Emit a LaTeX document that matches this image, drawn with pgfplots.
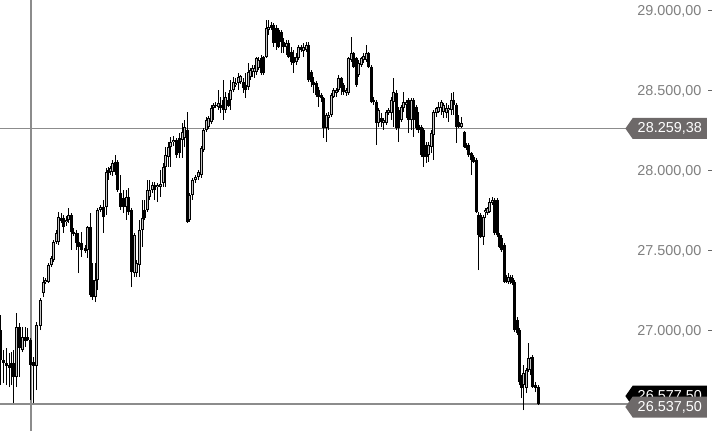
\documentclass[border=0pt]{standalone}
\usepackage{pgfplots}
\pgfplotsset{compat=1.18}
\usepackage{pgfplotstable}
\usepackage{fontspec}
\setmainfont{Liberation Sans}
\usetikzlibrary{shapes.symbols}
\definecolor{cross}{HTML}{8C8C8C}
\definecolor{tag}{HTML}{6D6969}
\definecolor{ticktext}{HTML}{7F7F7F}

% x = bar position, o h l c = open high low close
\pgfplotstableread{
x o h l c
0 27000 27093.75 26656.25 26812.5
3 26812.5 26875 26668.75 26793.75
6 26793.75 26887.5 26656.25 26775
9 26781.25 26856.25 26643.75 26762.5
11 26793.75 26862.5 26656.25 26768.75
13.5 26793.75 26875 26543.75 26706.25
16.5 26706.25 27106.25 26643.75 27018.75
19.5 27018.75 27043.75 26706.25 26887.5
22 26875 27018.75 26862.5 26956.25
25 26956.25 27018.75 26893.75 26931.25
27.5 26956.25 27012.5 26931.25 26937.5
30 26937.5 26950 26562.5 26781.25
33 26800 26831.25 26543.75 26775
36.5 26775 27050 26625 27031.25
40.5 27025 27200 27000 27187.5
43 27231.25 27331.25 27206.25 27300
45.5 27300 27325 27287.5 27312.5
48 27300 27418.75 27293.75 27406.25
51 27406.25 27462.5 27393.75 27450
53.5 27437.5 27562.5 27425 27550
56 27550 27625 27537.5 27606.25
58.5 27550 27737.5 27531.25 27706.25
61 27700 27731.25 27668.75 27681.25
63.5 27700 27718.75 27606.25 27643.75
66 27675 27712.5 27650 27687.5
68.5 27687.5 27762.5 27668.75 27718.75
71 27718.75 27731.25 27500 27612.5
73.5 27612.5 27637.5 27587.5 27600
76 27606.25 27625 27500 27543.75
78.5 27550 27606.25 27356.25 27518.75
81.5 27543.75 27612.5 27456.25 27500
85 27512.5 27531.25 27481.25 27493.75
87.5 27500 27650 27450 27643.75
90 27643.75 27731.25 27206.25 27218.75
92.5 27312.5 27418.75 27187.5 27206.25
95 27206.25 27418.75 27175 27312.5
97.5 27312.5 27762.5 27250 27750
100 27750 27781.25 27737.5 27768.75
103 27768.75 27812.5 27606.25 27706.25
106 27768.75 28012.5 27718.75 27987.5
108 28000 28018.75 27937.5 27981.25
110 27987.5 28025 27968.75 28012.5
112.5 27987.5 28062.5 27962.5 28043.75
115 28050 28093.75 27968.75 27987.5
117.5 28050 28062.5 27862.5 27875
120.5 27856.25 27968.75 27750 27768.75
123 27825 27875 27731.25 27768.75
126 27768.75 27875 27687.5 27831.25
128.5 27831.25 27887.5 27718.75 27737.5
131.5 27750 27762.5 27268.75 27362.5
134 27356.25 27606.25 27331.25 27593.75
136.5 27356.25 27437.5 27331.25 27418.75
139 27406.25 27687.5 27331.25 27625
142 27625 27812.5 27518.75 27700
144.5 27750 27812.5 27687.5 27700
147 27750 27937.5 27737.5 27875
149.5 27831.25 27937.5 27812.5 27875
152 27875 27925 27856.25 27906.25
154.5 27906.25 27925 27812.5 27875
157 27893.75 27918.75 27800 27906.25
160 27893.75 28000 27831.25 27912.5
163 27918.75 28043.75 27893.75 28018.75
165.5 28018.75 28143.75 27893.75 28093.75
168 28081.25 28175 28018.75 28143.75
170.5 28143.75 28206.25 28018.75 28175
173 28175 28212.5 28150 28187.5
176 28187.5 28200 28075 28093.75
179 28200 28231.25 28075 28106.25
182 28187.5 28293.75 28075 28237.5
184.5 28200 28312.5 28143.75 28268.75
187 28250 28362.5 27668.75 27675
189.5 27687.5 27856.25 27675 27843.75
192.5 27843.75 27950 27812.5 27937.5
195.5 27937.5 27968.75 27918.75 27956.25
198.5 27956.25 28000 27937.5 27987.5
201 27968.75 28150 27950 28137.5
203.5 28125 28262.5 28112.5 28250
206 28250 28331.25 28237.5 28312.5
208.5 28268.75 28337.5 28256.25 28325
211 28300 28406.25 28287.5 28387.5
213 28387.5 28418.75 28312.5 28406.25
215.5 28406.25 28425 28387.5 28400
218 28393.75 28500 28375 28418.75
220.5 28406.25 28456.25 28356.25 28387.5
223 28437.5 28562.5 28312.5 28375
225.5 28375 28487.5 28356.25 28456.25
228 28437.5 28481.25 28393.75 28400
230.5 28437.5 28562.5 28375 28500
233 28500 28581.25 28487.5 28550
235.5 28531.25 28575 28518.75 28543.75
238 28543.75 28606.25 28500 28581.25
240.5 28550 28593.75 28537.5 28587.5
243 28550 28575 28481.25 28512.5
245.5 28531.25 28606.25 28450 28500
248 28518.75 28668.75 28500 28612.5
250 28581.25 28637.5 28562.5 28625
252 28612.5 28656.25 28581.25 28637.5
254 28612.5 28656.25 28575 28637.5
256.5 28612.5 28706.25 28593.75 28700
258.5 28637.5 28706.25 28625 28687.5
261 28700 28718.75 28593.75 28606.25
263.5 28706.25 28712.5 28593.75 28606.25
266 28706.25 28937.5 28700 28887.5
268.5 28875 28937.5 28843.75 28893.75
271 28906.25 28925 28875 28887.5
273.5 28906.25 28918.75 28768.75 28793.75
276 28887.5 28906.25 28750 28793.75
278.5 28875 28887.5 28762.5 28768.75
281 28862.5 28875 28731.25 28800
283.5 28800 28825 28731.25 28768.75
286 28768.75 28812.5 28718.75 28793.75
288.5 28793.75 28812.5 28700 28706.25
291 28737.5 28768.75 28656.25 28675
293.5 28706.25 28750 28606.25 28668.75
296 28675 28731.25 28656.25 28706.25
298.5 28700 28781.25 28687.5 28768.75
301 28768.75 28781.25 28737.5 28750
303.5 28743.75 28793.75 28706.25 28768.75
306 28750 28800 28737.5 28781.25
308.5 28781.25 28800 28550 28562.5
311 28612.5 28625 28518.75 28550
313.5 28550 28581.25 28481.25 28531.25
316 28543.75 28556.25 28456.25 28468.75
318.5 28500 28518.75 28393.75 28456.25
321 28468.75 28481.25 28425 28450
323.5 28450 28456.25 28200 28262.5
326 28262.5 28356.25 28175 28343.75
328.5 28325 28362.5 28250 28343.75
331 28343.75 28481.25 28331.25 28468.75
333.5 28456.25 28512.5 28450 28500
336 28481.25 28512.5 28456.25 28500
338.5 28500 28593.75 28487.5 28575
341 28575 28581.25 28468.75 28512.5
343.5 28531.25 28543.75 28468.75 28487.5
346 28481.25 28512.5 28462.5 28500
348.5 28481.25 28706.25 28468.75 28700
351 28687.5 28831.25 28675 28731.25
353.5 28731.25 28737.5 28637.5 28643.75
356 28700 28706.25 28518.75 28531.25
358.5 28593.75 28687.5 28581.25 28668.75
361 28656.25 28706.25 28643.75 28700
363.5 28687.5 28731.25 28668.75 28712.5
366 28687.5 28781.25 28675 28731.25
368.5 28731.25 28737.5 28637.5 28643.75
371 28643.75 28656.25 28418.75 28425
373.5 28437.5 28456.25 28406.25 28425
376 28425 28437.5 28156.25 28293.75
378.5 28293.75 28387.5 28268.75 28375
381 28325 28356.25 28268.75 28300
383.5 28293.75 28325 28250 28312.5
386 28293.75 28375 28281.25 28362.5
388.5 28356.25 28387.5 28343.75 28375
391 28356.25 28456.25 28312.5 28437.5
393.5 28425 28575 28268.75 28487.5
396 28481.25 28500 28250 28262.5
398.5 28375 28393.75 28175 28262.5
401 28312.5 28406.25 28300 28393.75
403.5 28387.5 28487.5 28362.5 28425
406 28406.25 28437.5 28325 28425
408.5 28437.5 28450 28231.25 28312.5
411 28312.5 28450 28250 28437.5
413.5 28437.5 28450 28206.25 28312.5
416 28393.75 28406.25 28250 28262.5
418.5 28281.25 28362.5 28231.25 28250
421 28268.75 28281.25 28081.25 28093.75
423.5 28250 28262.5 28018.75 28081.25
426 28156.25 28175 28043.75 28081.25
428.5 28093.75 28175 28050 28156.25
431 28143.75 28250 28106.25 28231.25
433.5 28218.75 28375 28062.5 28362.5
436 28356.25 28393.75 28331.25 28387.5
438.5 28362.5 28425 28356.25 28393.75
441 28387.5 28437.5 28343.75 28425
443.5 28362.5 28418.75 28325 28406.25
446 28356.25 28418.75 28325 28387.5
448.5 28375 28406.25 28300 28387.5
451 28375 28481.25 28343.75 28437.5
453.5 28437.5 28487.5 28343.75 28406.25
456 28406.25 28418.75 28168.75 28268.75
458.5 28300 28343.75 28262.5 28268.75
461 28268.75 28331.25 28262.5 28293.75
464 28237.5 28243.75 28137.5 28143.75
466 28156.25 28168.75 28125 28137.5
468.5 28156.25 28168.75 28081.25 28093.75
471 28106.25 28112.5 27968.75 28062.5
473.5 28081.25 28093.75 28043.75 28050
476 28062.5 28075 27731.25 27737.5
478 27718.75 27737.5 27375 27593.75
480.5 27718.75 27731.25 27575 27581.25
483 27581.25 27718.75 27531.25 27706.25
485 27737.5 27762.5 27700 27750
487 27731.25 27768.75 27718.75 27762.5
489.5 27737.5 27825 27731.25 27800
492 27793.75 27831.25 27781.25 27812.5
494.5 27812.5 27825 27593.75 27606.25
497 27812.5 27825 27581.25 27593.75
499.5 27593.75 27606.25 27512.5 27518.75
501.5 27575 27593.75 27487.5 27500
504 27531.25 27543.75 27293.75 27300
506 27325 27343.75 27293.75 27300
508 27300 27356.25 27287.5 27331.25
510.5 27331.25 27343.75 27287.5 27300
512.5 27325 27343.75 27281.25 27293.75
514.5 27300 27312.5 26987.5 27000
517 27062.5 27081.25 26968.75 26981.25
519 27000 27012.5 26656.25 26675
521.5 26700 26718.75 26575 26637.5
523.5 26656.25 26781.25 26500 26731.25
526 26637.5 26762.5 26606.25 26750
528 26750 26918.75 26737.5 26825
530.5 26750 26831.25 26718.75 26825
532.5 26831.25 26843.75 26637.5 26643.75
535 26656.25 26675 26612.5 26637.5
538 26643.75 26656.25 26531.25 26537.5
}\candles

\begin{document}
\begin{tikzpicture}
\begin{axis}[
    width=712pt, height=431pt, scale only axis,
    xmin=0, xmax=712, ymin=26368.75, ymax=29062.5,
    axis x line=none, axis y line*=right,
    y axis line style={draw=black!70, line width=0.8pt},
    ytick={27000,27500,28000,28500,29000},
    scaled y ticks=false,
    tick align=inside, major tick length=4pt,
    ytick style={draw=black!60, line width=0.8pt},
    yticklabel style={anchor=east, xshift=-7pt, yshift=-1.5pt, text=ticktext,
        font=\fontsize{14.4}{17}\selectfont},
    /pgf/number format/.cd, fixed, fixed zerofill, precision=2,
        use comma, 1000 sep={.}, assume math mode=true,
]
% crosshair and price lines
\addplot[cross, line width=1.2pt] coordinates {(31,26368.75) (31,29062.5)};
\addplot[cross, line width=1.2pt] coordinates {(0,28259.38) (630,28259.38)};
\addplot[cross, line width=1.2pt] coordinates {(0,26537.5) (630,26537.5)};

% wicks
\addplot[black, line width=1pt, quiver={u=0, v=\thisrow{h}-\thisrow{l}}]
    table[x=x, y=l] {\candles};
% bodies
\addplot[black, line width=3pt, quiver={u=0, v=\thisrow{c}-\thisrow{o}}]
    table[x=x, y=o] {\candles};
% hollow inside of the up candles
\addplot[white!55!gray, line width=1pt, quiver={u=0, v=\thisrow{c}-\thisrow{o}-10},
    x filter/.expression={(\thisrow{c}-\thisrow{o}>12) ? x : nan}]
    table[x=x, y expr=\thisrow{o}+5] {\candles};

\node[signal, signal to=west, signal pointer angle=110, fill=black, text=white,
    font=\fontsize{14.4}{17}\selectfont, inner xsep=5pt, inner ysep=2pt,
    minimum height=21pt, anchor=east] at (axis cs:707,26587) {26.577,50};
\node[signal, signal to=west, signal pointer angle=110, fill=tag, text=white,
    font=\fontsize{14.4}{17}\selectfont, inner xsep=5pt, inner ysep=2pt,
    minimum height=21pt, anchor=east, yshift=-3pt] at (axis cs:707,26537.5) {26.537,50};
\node[signal, signal to=west, signal pointer angle=110, fill=tag, text=white,
    font=\fontsize{14.4}{17}\selectfont, inner xsep=5pt, inner ysep=2pt,
    minimum height=21pt, anchor=east] at (axis cs:707,28259.38) {28.259,38};

\coordinate (sw) at (rel axis cs:0,0);
\coordinate (ne) at (rel axis cs:1,1);
\end{axis}
\pgfresetboundingbox
\path (sw) rectangle (ne);
\end{tikzpicture}
\end{document}
